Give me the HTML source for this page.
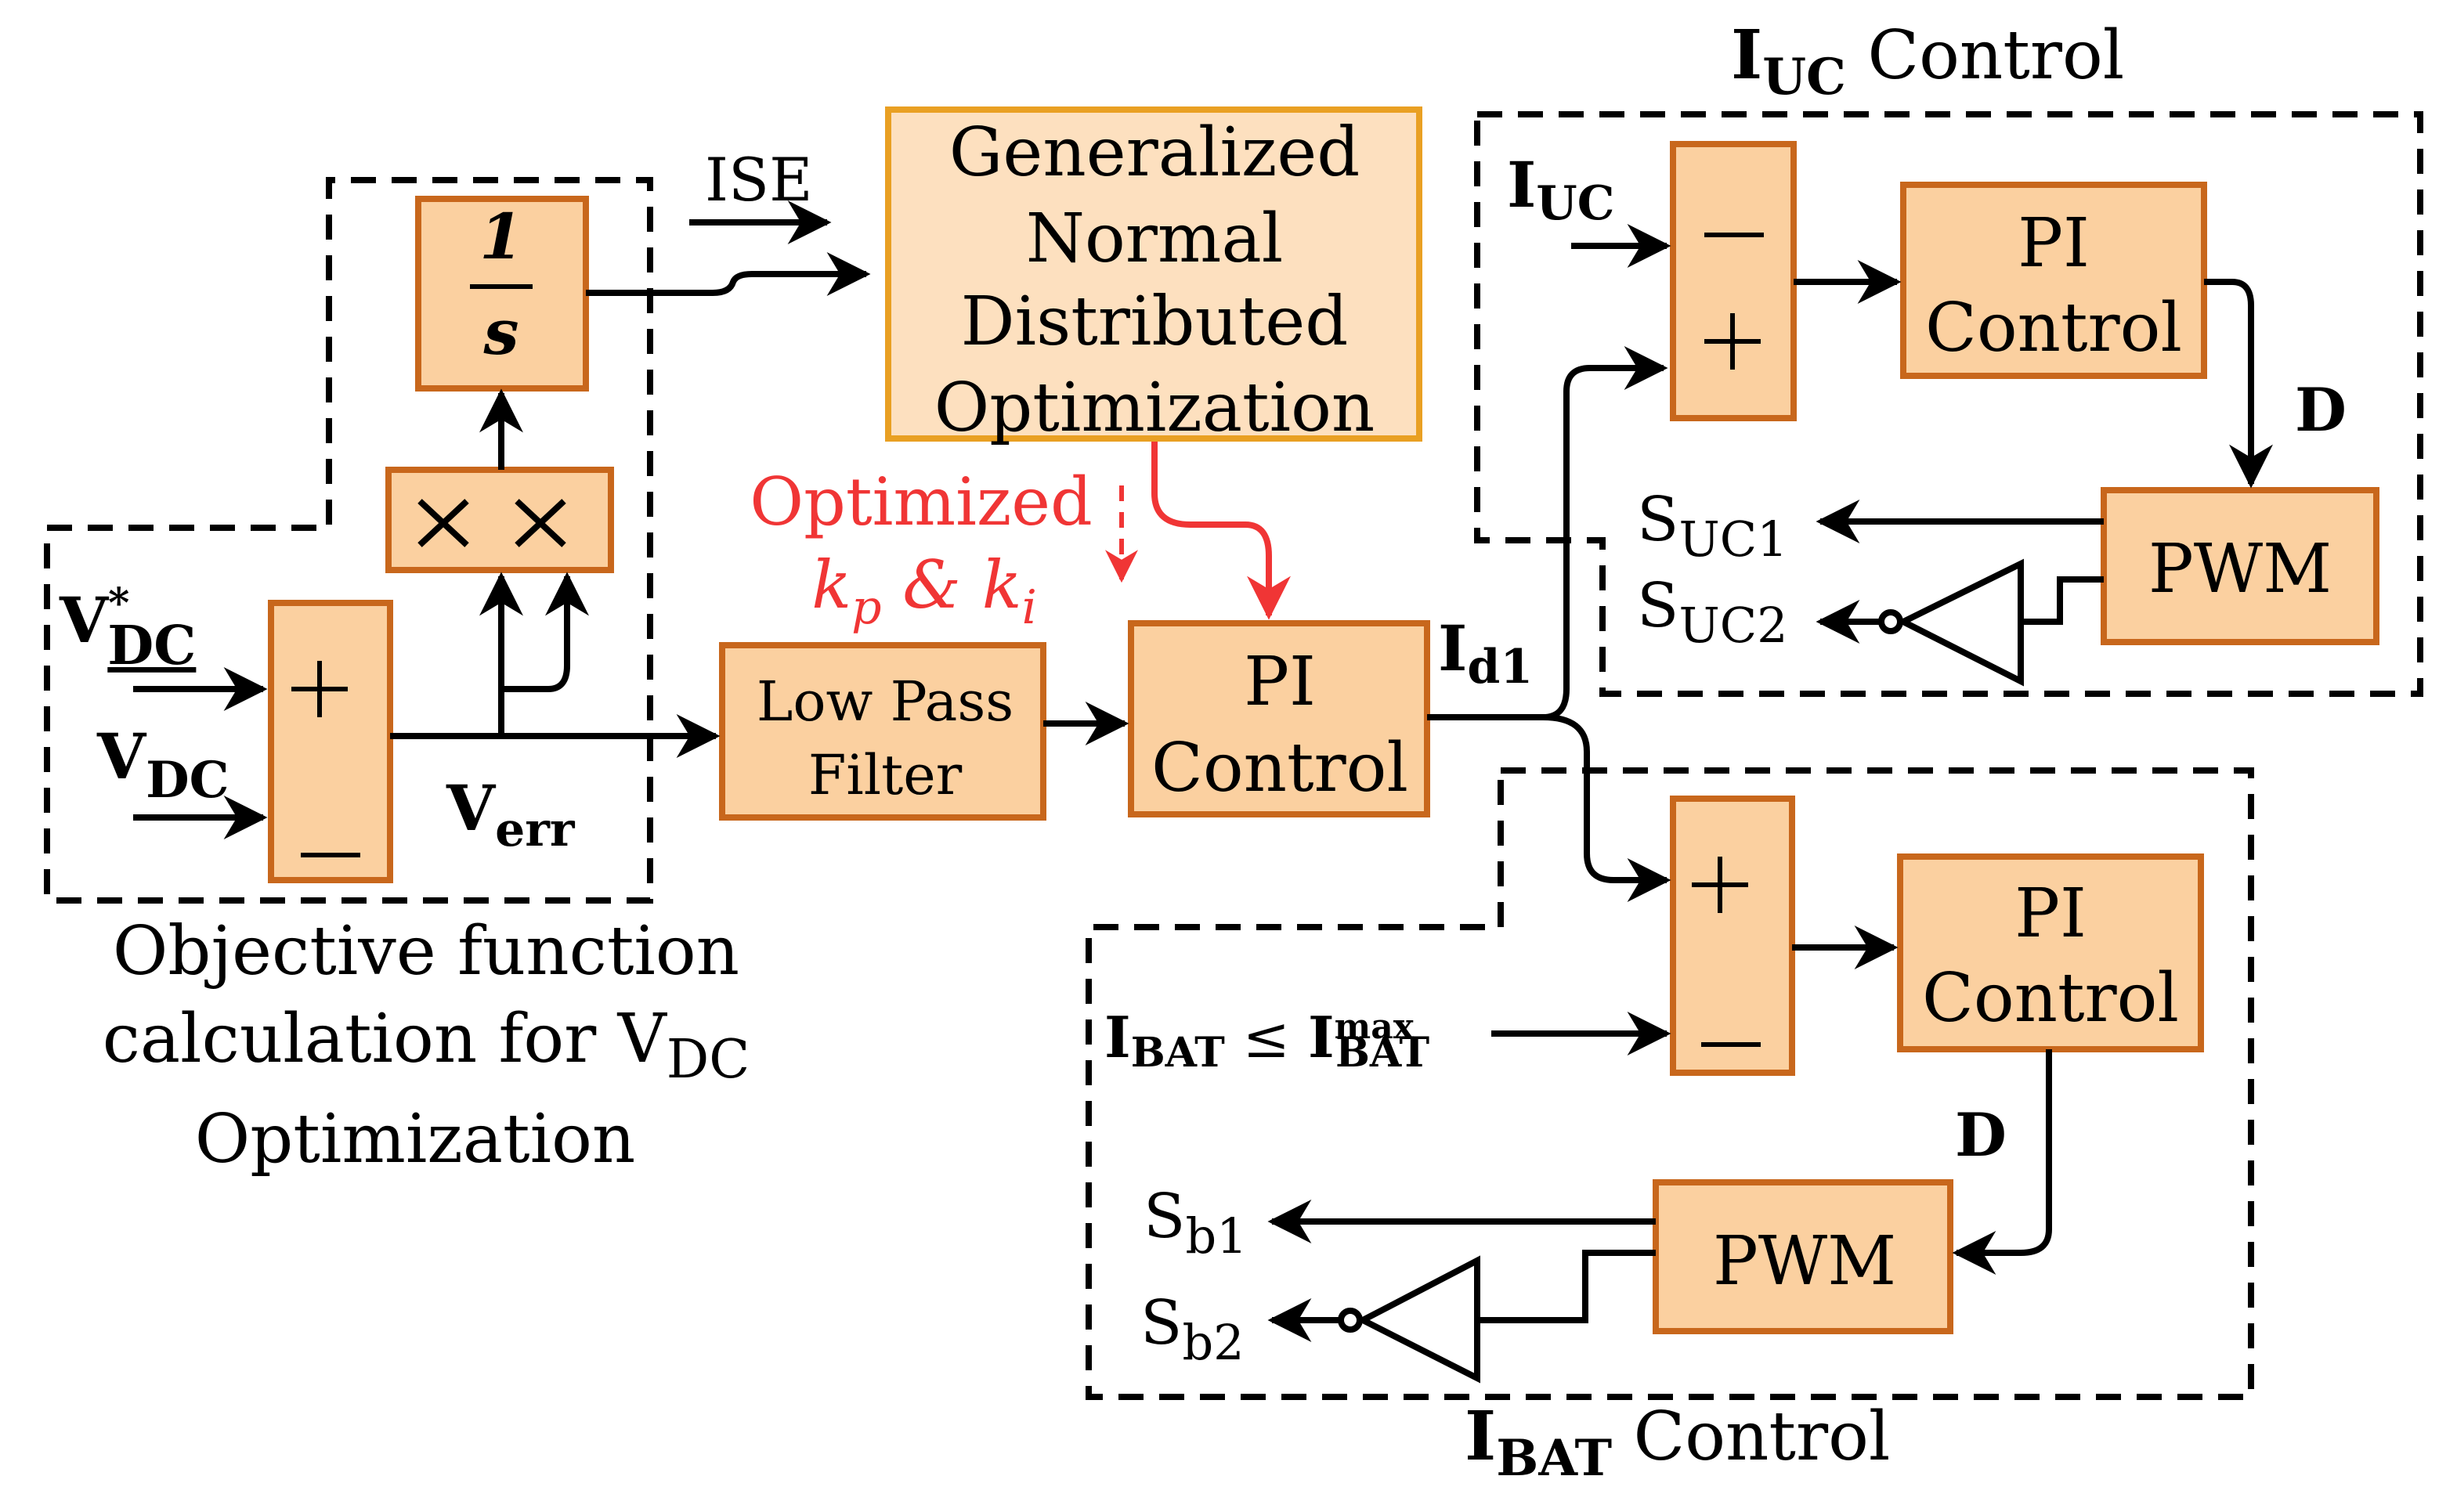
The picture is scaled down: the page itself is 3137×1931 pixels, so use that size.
<!DOCTYPE html>
<html><head><meta charset="utf-8"><style>
html,body{margin:0;padding:0;background:#fff;width:3137px;height:1931px;overflow:hidden}
svg{display:block}
text{font-family:"DejaVu Serif","Liberation Serif",serif;fill:#000}
</style></head><body>
<svg width="3137" height="1931" viewBox="0 0 1568.5 965.5" xmlns="http://www.w3.org/2000/svg">
<defs>
<marker id="ah" viewBox="0 0 10 10" refX="9" refY="5" markerWidth="7" markerHeight="7" orient="auto"><path d="M0,0 L10,5 L0,10 L3,5 z" fill="#000"/></marker>
<marker id="ar" viewBox="0 0 10 10" refX="9" refY="5" markerWidth="7" markerHeight="7" orient="auto"><path d="M0,0 L10,5 L0,10 L3,5 z" fill="#f03535"/></marker>
</defs>
<g fill="none" stroke="#000" stroke-width="4" stroke-dasharray="16,10">
<path d="M30,337 H210 V115 H415 V575 H30 Z"/>
<path d="M943,73 H1545 V443 H1023 V345 H943 Z"/>
<path d="M958,492 H1437 V892 H695 V592 H958 Z"/>
</g>
<g fill="#fbd0a0" stroke="#c8671c" stroke-width="4">
<rect x="267" y="127" width="107" height="121"/>
<rect x="248" y="300" width="142" height="64"/>
<rect x="173" y="385" width="76" height="177"/>
<rect x="461" y="412" width="205" height="110"/>
<rect x="722" y="398" width="189" height="122"/>
<rect x="1068" y="92" width="77" height="175"/>
<rect x="1215" y="118" width="192" height="122"/>
<rect x="1343" y="313" width="174" height="97"/>
<rect x="1068" y="510" width="76" height="175"/>
<rect x="1213" y="547" width="192" height="123"/>
<rect x="1057" y="755" width="188" height="95"/>
</g>
<rect x="567" y="70" width="339" height="210" fill="#fde0bf" stroke="#e9a023" stroke-width="4"/>
<g fill="none" stroke="#000" stroke-width="4">
<path d="M85,440 H168" marker-end="url(#ah)"/>
<path d="M85,522 H168" marker-end="url(#ah)"/>
<path d="M249,470 H457" marker-end="url(#ah)"/>
<path d="M320,470 V368" marker-end="url(#ah)"/>
<path d="M320,440 H350 Q362,440 362,425 V368" marker-end="url(#ah)"/>
<path d="M320,300 V251" marker-end="url(#ah)"/>
<path d="M374,187 H455 Q466,187 468,180 Q470,175 480,175 H553" marker-end="url(#ah)"/>
<path d="M440,142 H528" marker-end="url(#ah)"/>
<path d="M666,462 H718" marker-end="url(#ah)"/>
<path d="M911,458 H985 Q1000,458 1000,440 V250 Q1000,235 1015,235 H1062" marker-end="url(#ah)"/>
<path d="M985,458 Q1013,458 1013,480 V545 Q1013,562 1030,562 H1064" marker-end="url(#ah)"/>
<path d="M1003,157 H1064" marker-end="url(#ah)"/>
<path d="M1145,180 H1211" marker-end="url(#ah)"/>
<path d="M1407,180 H1425 Q1437,180 1437,195 V309" marker-end="url(#ah)"/>
<path d="M1343,333 H1162" marker-end="url(#ah)"/>
<path d="M1343,370 H1315 V397 H1290"/>
<path d="M1290,360 L1290,435 L1215,397 Z"/>
<path d="M1200,397 H1162" marker-end="url(#ah)"/>
<path d="M952,660 H1064" marker-end="url(#ah)"/>
<path d="M1144,605 H1209" marker-end="url(#ah)"/>
<path d="M1308,670 V785 Q1308,800 1290,800 H1249" marker-end="url(#ah)"/>
<path d="M1057,780 H812" marker-end="url(#ah)"/>
<path d="M1057,800 H1012 V843 H943"/>
<path d="M943,805 L943,880 L870,843 Z"/>
<path d="M855,843 H812" marker-end="url(#ah)"/>
</g>
<circle cx="1207" cy="397" r="6" fill="#fff" stroke="#000" stroke-width="4"/>
<circle cx="862" cy="843" r="6" fill="#fff" stroke="#000" stroke-width="4"/>
<path d="M737,282 V315 Q737,335 760,335 H795 Q810,335 810,355 V393" fill="none" stroke="#f03535" stroke-width="4" marker-end="url(#ar)"/>
<path d="M716,310 V370" fill="none" stroke="#f03535" stroke-width="3" stroke-dasharray="10,7" marker-end="url(#ar)"/>
<line x1="300" y1="183" x2="340" y2="183" stroke="#000" stroke-width="3"/>
<text x="320" y="165" font-size="40" font-weight="bold" font-style="italic" text-anchor="middle">1</text>
<text x="320" y="226" font-size="40" font-weight="bold" font-style="italic" text-anchor="middle">s</text>
<g stroke="#000" stroke-width="4">
<path d="M268,320 L298,348 M298,320 L268,348"/>
<path d="M330,320 L360,348 M360,320 L330,348"/>
</g>
<g stroke="#000" stroke-width="3">
<path d="M186,440 H222 M204,422 V458"/>
<path d="M192,546 H230"/>
<path d="M1088,150 H1126"/>
<path d="M1088,218 H1124 M1106,200 V236"/>
<path d="M1080,565 H1116 M1098,547 V583"/>
<path d="M1086,667 H1124"/>
</g>
<text x="450" y="128" font-size="38">ISE</text>
<g font-size="43" text-anchor="middle">
<text x="737" y="112">Generalized</text><text x="737" y="167">Normal</text><text x="737" y="220">Distributed</text><text x="737" y="275">Optimization</text>
<text x="817" y="450">PI</text><text x="817" y="505">Control</text>
<text x="1311" y="170">PI</text><text x="1311" y="224">Control</text>
<text x="1309" y="598">PI</text><text x="1309" y="652">Control</text>
<text x="1430" y="378">PWM</text><text x="1152" y="820">PWM</text>
</g>
<text x="565" y="460" font-size="35" text-anchor="middle">Low Pass</text>
<text x="565" y="507" font-size="35" text-anchor="middle">Filter</text>
<text x="588" y="335" font-size="42" style="fill:#f03535" text-anchor="middle">Optimized</text>
<text x="590" y="388" font-size="42" style="fill:#f03535" text-anchor="middle" font-style="italic">k<tspan font-size="30" dy="10">p</tspan><tspan dy="-10"> &amp; k</tspan><tspan font-size="30" dy="10">i</tspan></text>
<text x="918" y="428" font-size="40" font-weight="bold">I<tspan font-size="30" dy="8">d1</tspan></text>
<text x="285" y="530" font-size="40" font-weight="bold">V<tspan font-size="30" dy="10">err</tspan></text>
<text x="38" y="410" font-size="40" font-weight="bold">V<tspan font-size="26" dy="-16">*</tspan><tspan font-size="34" dy="30" dx="-14" text-decoration="underline">DC</tspan></text>
<text x="62" y="497" font-size="40" font-weight="bold">V<tspan font-size="32" dy="12">DC</tspan></text>
<g font-size="43" text-anchor="middle">
<text x="272" y="622">Objective function</text>
<text x="272" y="678">calculation for V<tspan font-size="34" dy="10">DC</tspan></text>
<text x="265" y="742">Optimization</text>
</g>
<text x="1105" y="50" font-size="43"><tspan font-weight="bold">I<tspan font-size="32" dy="10">UC</tspan></tspan><tspan dy="-10"> Control</tspan></text>
<text x="962" y="132" font-size="40" font-weight="bold">I<tspan font-size="30" dy="8">UC</tspan></text>
<text x="1465" y="275" font-size="38" font-weight="bold">D</text>
<text x="1045" y="345" font-size="39">S<tspan font-size="31" dy="10">UC1</tspan></text>
<text x="1045" y="400" font-size="39">S<tspan font-size="31" dy="10">UC2</tspan></text>
<text x="705" y="675" font-size="36" font-weight="bold">I<tspan font-size="26" dy="6">BAT</tspan><tspan dy="-6" font-weight="normal"> ≤ </tspan>I<tspan font-size="22" dy="-12">max</tspan><tspan font-size="26" dx="-50" dy="18">BAT</tspan></text>
<text x="1248" y="738" font-size="38" font-weight="bold">D</text>
<text x="730" y="790" font-size="39">S<tspan font-size="31" dy="10">b1</tspan></text>
<text x="728" y="858" font-size="39">S<tspan font-size="31" dy="10">b2</tspan></text>
<text x="935" y="932" font-size="43"><tspan font-weight="bold">I<tspan font-size="32" dy="10">BAT</tspan></tspan><tspan dy="-10"> Control</tspan></text>
</svg>
</body></html>
